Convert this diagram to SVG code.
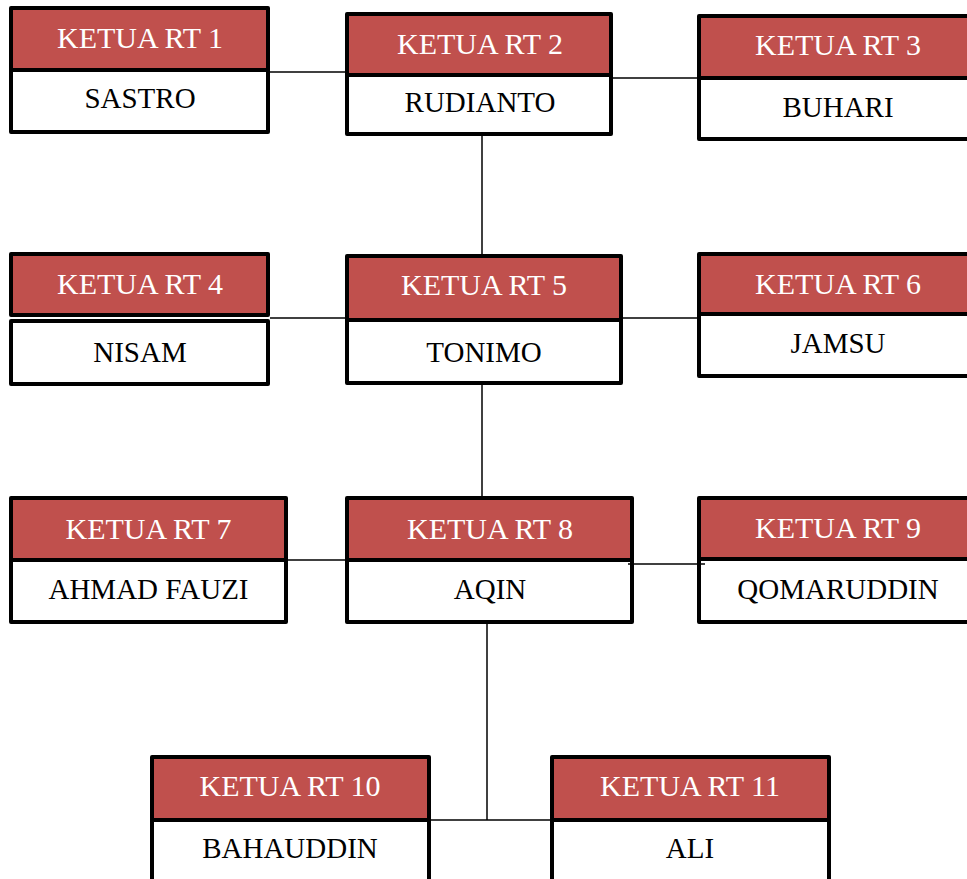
<svg xmlns="http://www.w3.org/2000/svg" width="967" height="879" viewBox="0 0 967 879">
<style>
.hd{fill:#C0504D;stroke:#000;stroke-width:4;stroke-linejoin:round}
.bd{fill:#fff;stroke:#000;stroke-width:4;stroke-linejoin:round}
.ht{font-family:'Liberation Serif',Tinos,'Times New Roman',Times,serif;font-size:30px;fill:#fff;text-anchor:middle}
.bt{font-family:'Liberation Serif',Tinos,'Times New Roman',Times,serif;font-size:29px;fill:#000;text-anchor:middle}
.cn{stroke:#000;stroke-width:1.5;fill:none}
</style>
<rect width="967" height="879" fill="#fff"/>
<g id="n1"><rect class="hd" x="11" y="8" width="257" height="62"/><rect class="bd" x="11" y="70" width="257" height="62"/><text class="ht" x="140" y="48">KETUA RT 1</text><text class="bt" x="140" y="108">SASTRO</text></g>
<g id="n2"><rect class="hd" x="347" y="14" width="264" height="61"/><rect class="bd" x="347" y="75" width="264" height="59"/><text class="ht" x="480" y="54">KETUA RT 2</text><text class="bt" x="480" y="112">RUDIANTO</text></g>
<g id="n3"><rect class="hd" x="699" y="16" width="279" height="62"/><rect class="bd" x="699" y="78" width="279" height="61"/><text class="ht" x="838" y="55">KETUA RT 3</text><text class="bt" x="838" y="117">BUHARI</text></g>
<g id="n4"><rect class="hd" x="11" y="254" width="257" height="61"/><rect class="bd" x="11" y="321" width="257" height="63"/><text class="ht" x="140" y="294">KETUA RT 4</text><text class="bt" x="140" y="362">NISAM</text></g>
<g id="n5"><rect class="hd" x="347" y="256" width="274" height="64"/><rect class="bd" x="347" y="320" width="274" height="63"/><text class="ht" x="484" y="295">KETUA RT 5</text><text class="bt" x="484" y="362">TONIMO</text></g>
<g id="n6"><rect class="hd" x="699" y="254" width="279" height="60"/><rect class="bd" x="699" y="314" width="279" height="62"/><text class="ht" x="838" y="294">KETUA RT 6</text><text class="bt" x="838" y="353">JAMSU</text></g>
<g id="n7"><rect class="hd" x="11" y="498" width="275" height="62"/><rect class="bd" x="11" y="560" width="275" height="62"/><text class="ht" x="148.5" y="539">KETUA RT 7</text><text class="bt" x="148.5" y="599">AHMAD FAUZI</text></g>
<g id="n8"><rect class="hd" x="347" y="498" width="285" height="62"/><rect class="bd" x="347" y="560" width="285" height="62"/><text class="ht" x="490" y="539">KETUA RT 8</text><text class="bt" x="490" y="599">AQIN</text></g>
<g id="n9"><rect class="hd" x="699" y="498" width="279" height="61"/><rect class="bd" x="699" y="559" width="279" height="63"/><text class="ht" x="838" y="538">KETUA RT 9</text><text class="bt" x="838" y="599">QOMARUDDIN</text></g>
<g id="n10"><rect class="hd" x="152" y="757" width="277" height="63"/><rect class="bd" x="152" y="820" width="277" height="70"/><text class="ht" x="290" y="796">KETUA RT 10</text><text class="bt" x="290" y="858">BAHAUDDIN</text></g>
<g id="n11"><rect class="hd" x="552" y="757" width="277" height="63"/><rect class="bd" x="552" y="820" width="277" height="70"/><text class="ht" x="690" y="796">KETUA RT 11</text><text class="bt" x="690" y="858">ALI</text></g>
<g id="connectors">
<line class="cn" x1="270" y1="72" x2="345" y2="72"/>
<line class="cn" x1="613" y1="78" x2="697" y2="78"/>
<line class="cn" x1="482" y1="136" x2="482" y2="254"/>
<line class="cn" x1="270" y1="318" x2="345" y2="318"/>
<line class="cn" x1="623" y1="318" x2="697" y2="318"/>
<line class="cn" x1="482" y1="385" x2="482" y2="496"/>
<line class="cn" x1="288" y1="560" x2="345" y2="560"/>
<line class="cn" x1="628" y1="564" x2="705" y2="564"/>
<line class="cn" x1="487" y1="624" x2="487" y2="820"/>
<line class="cn" x1="431" y1="820" x2="550" y2="820"/>
</g>
</svg>
